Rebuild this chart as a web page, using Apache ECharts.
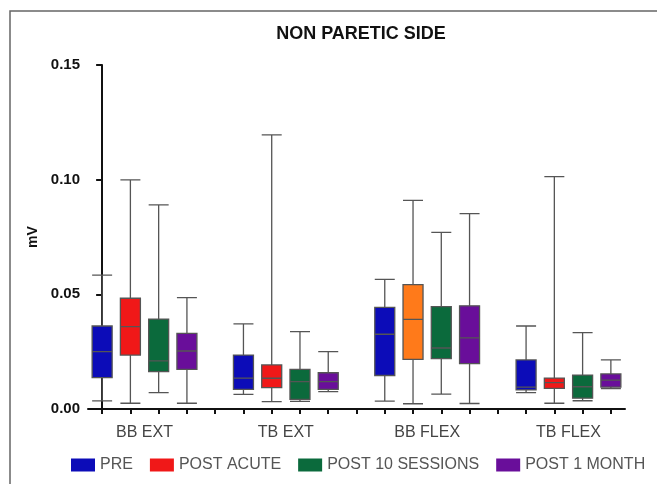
<!DOCTYPE html>
<html><head><meta charset="utf-8">
<script src="https://cdn.jsdelivr.net/npm/echarts@6/dist/echarts.min.js"></script>
<style>html,body{margin:0;padding:0;background:#fff}#c{width:657px;height:484px}</style>
</head><body><div id="c"></div>
<script>
// Categories (groups) and series
const groups = ['BB EXT', 'TB EXT', 'BB FLEX', 'TB FLEX'];
const seriesNames = ['PRE', 'POST ACUTE', 'POST 10 SESSIONS', 'POST 1 MONTH'];
// Each entry: [min, Q1, median, Q3, max] for BB EXT, TB EXT, BB FLEX, TB FLEX
const pre       = [[0.0035, 0.0137, 0.0250, 0.0362, 0.0584], [0.0064, 0.0086, 0.0135, 0.0235, 0.0371], [0.0034, 0.0146, 0.0326, 0.0443, 0.0565], [0.0071, 0.0083, 0.0095, 0.0214, 0.0362]];
const postAcute = [[0.0025, 0.0235, 0.0359, 0.0483, 0.0999], [0.0032, 0.0093, 0.0134, 0.0192, 0.1195], [0.0023, 0.0216, 0.0391, 0.0542, 0.0910], [0.0025, 0.0090, 0.0115, 0.0135, 0.1013]];
const post10    = [[0.0071, 0.0163, 0.0210, 0.0392, 0.0890], [0.0033, 0.0042, 0.0119, 0.0173, 0.0337], [0.0065, 0.0220, 0.0266, 0.0446, 0.0770], [0.0036, 0.0047, 0.0097, 0.0148, 0.0333]];
const post1m    = [[0.0025, 0.0173, 0.0253, 0.0330, 0.0486], [0.0076, 0.0086, 0.0119, 0.0158, 0.0250], [0.0024, 0.0198, 0.0310, 0.0450, 0.0852], [0.0089, 0.0095, 0.0126, 0.0153, 0.0214]];
const yTickValues = [0, 0.05, 0.10, 0.15];

const allSeries = [pre, postAcute, post10, post1m];
const colors = ['#0c0cb8', '#f01818', '#0b6a3c', '#690e9a'];
const highlightColor = '#ff7a1a'; // POST ACUTE / BB FLEX box drawn in orange
const slotsPerGroup = groups.length + 1;
const slotCount = groups.length * slotsPerGroup - 1;
const slots = Array.from({length: slotCount}, (_, i) => 's' + i);
const slotCenters = Array.from({length: slotCount}, (_, i) => i);

const xAxes = [];
for (let s = 0; s < seriesNames.length; s++) {
  xAxes.push({
    type: 'category', data: slots, gridIndex: 0, position: 'bottom',
    boundaryGap: true,
    axisLine: {show: false}, axisTick: {show: false}, axisLabel: {show: false},
    splitLine: {show: false}
  });
}
// visible axis: line, ticks at each slot, group names centred on each group
xAxes.push({
  type: 'value', gridIndex: 0, position: 'bottom',
  min: -0.5, max: slotCount - 0.5,
  axisLine: {show: true, onZero: false, lineStyle: {color: '#111', width: 2}},
  axisTick: {show: true, customValues: slotCenters, length: 5, lineStyle: {color: '#111', width: 2}},
  splitLine: {show: false},
  axisLabel: {
    customValues: groups.map((g, i) => i * slotsPerGroup + (seriesNames.length - 1) / 2),
    formatter: v => groups[Math.round((v - (seriesNames.length - 1) / 2) / slotsPerGroup)],
    color: '#444', fontSize: 16, fontFamily: 'Liberation Sans, Arial', margin: 16
  }
});

const series = allSeries.map((arr, s) => ({
  name: seriesNames[s],
  type: 'boxplot',
  xAxisIndex: s, yAxisIndex: 0,
  boxWidth: [20, 20],
  encode: {x: 0, y: [1, 2, 3, 4, 5]},
  itemStyle: {color: colors[s], borderColor: '#555', borderWidth: 1.3},
  emphasis: {disabled: true},
  data: arr.map((v, g) => {
    const item = {value: [g * slotsPerGroup + s].concat(v)};
    if (s === 1 && g === 2) item.itemStyle = {color: highlightColor, borderColor: '#555'};
    return item;
  })
}));

const chart = echarts.init(document.getElementById('c'), null, {renderer: 'canvas'});
chart.setOption({
  animation: false,
  backgroundColor: '#fff',
  title: {
    text: 'NON PARETIC SIDE', left: 356, top: 20, textAlign: 'center',
    textStyle: {fontFamily: 'Liberation Sans, Arial', fontWeight: 'bold', fontSize: 18, color: '#111'}
  },
  grid: {left: 88, right: 32, top: 65, bottom: 75},
  legend: {
    data: seriesNames.map((n, i) => ({name: n, itemStyle: {color: colors[i], borderWidth: 0}})),
    left: 66, top: 452, icon: 'rect',
    itemWidth: 24, itemHeight: 13, itemGap: 17,
    textStyle: {color: '#555', fontSize: 16, fontFamily: 'Liberation Sans, Arial'}
  },
  xAxis: xAxes,
  yAxis: {
    type: 'value', min: 0, max: 0.15, interval: 0.05,
    name: 'mV', nameLocation: 'middle', nameGap: 48, nameRotate: 90,
    nameTextStyle: {fontFamily: 'Liberation Sans, Arial', fontWeight: 'bold', fontSize: 14, color: '#111'},
    axisLine: {show: true, lineStyle: {color: '#111', width: 2}},
    axisTick: {show: true, length: 6, lineStyle: {color: '#111', width: 2}},
    splitLine: {show: false},
    axisLabel: {
      customValues: yTickValues,
      formatter: v => v.toFixed(2), color: '#111', fontWeight: 'bold', fontSize: 15,
      fontFamily: 'Liberation Sans, Arial', margin: 8
    }
  },
  graphic: [{
    type: 'rect', silent: true, z: -1,
    shape: {x: 10, y: 11, width: 700, height: 520},
    style: {fill: 'none', stroke: '#666', lineWidth: 1.5}
  }],
  series: series
});
</script></body></html>
